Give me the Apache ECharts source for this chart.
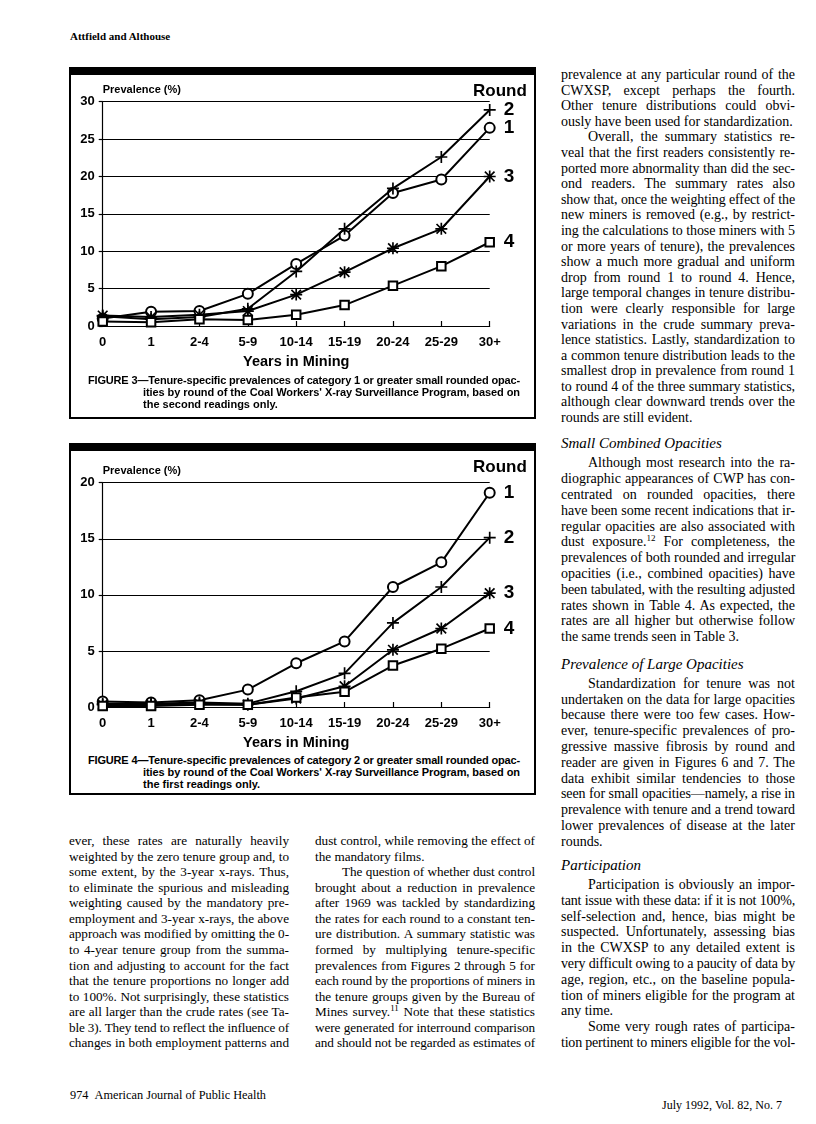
<!DOCTYPE html>
<html>
<head>
<meta charset="utf-8">
<script src="https://cdn.jsdelivr.net/npm/echarts@6/dist/echarts.min.js"></script>
<style>
  html, body { margin: 0; padding: 0; background: #fff; }
  .page { position: relative; width: 816px; height: 1124px; overflow: hidden; color: #000; }
  .abs { position: absolute; }
  .serif { font-family: 'Liberation Serif', 'Times New Roman', serif; }
  .sans { font-family: 'Liberation Sans', Arial, Helvetica, sans-serif; }
  .ln { white-space: nowrap; text-align: justify; text-align-last: justify; }
  .ln.e { text-align-last: left; }
  .ln.i { text-indent: 27px; }
  .box { position: absolute; box-sizing: border-box; border: 2px solid #000; border-top: 8px solid #000; }
  .cap { font-weight: bold; font-size: 11px; line-height: 12.2px; }
  .cap .ln.h { padding-left: 55px; }
  h3 { margin: 0; font-weight: normal; font-style: italic; font-size: 15px; line-height: 18px; }
  sup { font-size: 9px; line-height: 0; vertical-align: 5px; }
</style>
</head>
<body>
<div class="page">

  <div class="abs serif" style="left:70px; top:29px; font-size:11px; font-weight:bold; line-height:14px;">Attfield and Althouse</div>

  <!-- figure 3 -->
  <div class="box" style="left:69px; top:67px; width:467px; height:352px;"></div>
  <div id="fig3" class="abs" style="left:70px; top:75px; width:466px; height:300px;"></div>
  <div class="abs sans cap" style="left:88px; top:374px; width:432px;">
    <div class="ln">FIGURE 3—Tenure-specific prevalences of category 1 or greater small rounded opac-</div>
    <div class="ln h">ities by round of the Coal Workers' X-ray Surveillance Program, based on</div>
    <div class="ln h e">the second readings only.</div>
  </div>

  <!-- figure 4 -->
  <div class="box" style="left:69px; top:443px; width:467px; height:352px;"></div>
  <div id="fig4" class="abs" style="left:70px; top:451px; width:466px; height:300px;"></div>
  <div class="abs sans cap" style="left:88px; top:754px; width:432px;">
    <div class="ln">FIGURE 4—Tenure-specific prevalences of category 2 or greater small rounded opac-</div>
    <div class="ln h">ities by round of the Coal Workers' X-ray Surveillance Program, based on</div>
    <div class="ln h e">the first readings only.</div>
  </div>

  <!-- bottom left columns -->
  <div class="abs serif" style="left:69px; top:833px; width:220px; font-size:13.2px; line-height:15.56px;">
    <div class="ln">ever, these rates are naturally heavily</div>
    <div class="ln">weighted by the zero tenure group and, to</div>
    <div class="ln">some extent, by the 3-year x-rays. Thus,</div>
    <div class="ln">to eliminate the spurious and misleading</div>
    <div class="ln">weighting caused by the mandatory pre-</div>
    <div class="ln">employment and 3-year x-rays, the above</div>
    <div class="ln">approach was modified by omitting the 0-</div>
    <div class="ln">to 4-year tenure group from the summa-</div>
    <div class="ln">tion and adjusting to account for the fact</div>
    <div class="ln">that the tenure proportions no longer add</div>
    <div class="ln">to 100%. Not surprisingly, these statistics</div>
    <div class="ln">are all larger than the crude rates (see Ta-</div>
    <div class="ln">ble 3). They tend to reflect the influence of</div>
    <div class="ln">changes in both employment patterns and</div>
  </div>
  <div class="abs serif" style="left:315px; top:833px; width:220px; font-size:13.2px; line-height:15.56px;">
    <div class="ln">dust control, while removing the effect of</div>
    <div class="ln e">the mandatory films.</div>
    <div class="ln i">The question of whether dust control</div>
    <div class="ln">brought about a reduction in prevalence</div>
    <div class="ln">after 1969 was tackled by standardizing</div>
    <div class="ln">the rates for each round to a constant ten-</div>
    <div class="ln">ure distribution. A summary statistic was</div>
    <div class="ln">formed by multiplying tenure-specific</div>
    <div class="ln">prevalences from Figures 2 through 5 for</div>
    <div class="ln">each round by the proportions of miners in</div>
    <div class="ln">the tenure groups given by the Bureau of</div>
    <div class="ln">Mines survey.<sup>11</sup> Note that these statistics</div>
    <div class="ln">were generated for interround comparison</div>
    <div class="ln">and should not be regarded as estimates of</div>
  </div>

  <!-- right column -->
  <div class="abs serif" style="left:561px; top:67px; width:234px; font-size:14px; line-height:15.6px;">
    <div class="ln">prevalence at any particular round of the</div>
    <div class="ln">CWXSP, except perhaps the fourth.</div>
    <div class="ln">Other tenure distributions could obvi-</div>
    <div class="ln e">ously have been used for standardization.</div>
    <div class="ln i">Overall, the summary statistics re-</div>
    <div class="ln">veal that the first readers consistently re-</div>
    <div class="ln">ported more abnormality than did the sec-</div>
    <div class="ln">ond readers. The summary rates also</div>
    <div class="ln">show that, once the weighting effect of the</div>
    <div class="ln">new miners is removed (e.g., by restrict-</div>
    <div class="ln">ing the calculations to those miners with 5</div>
    <div class="ln">or more years of tenure), the prevalences</div>
    <div class="ln">show a much more gradual and uniform</div>
    <div class="ln">drop from round 1 to round 4. Hence,</div>
    <div class="ln">large temporal changes in tenure distribu-</div>
    <div class="ln">tion were clearly responsible for large</div>
    <div class="ln">variations in the crude summary preva-</div>
    <div class="ln">lence statistics. Lastly, standardization to</div>
    <div class="ln">a common tenure distribution leads to the</div>
    <div class="ln">smallest drop in prevalence from round 1</div>
    <div class="ln">to round 4 of the three summary statistics,</div>
    <div class="ln">although clear downward trends over the</div>
    <div class="ln e">rounds are still evident.</div>
  </div>

  <h3 class="abs serif" style="left:561px; top:434px;">Small Combined Opacities</h3>
  <div class="abs serif" style="left:561px; top:455.4px; width:234px; font-size:14px; line-height:15.8px;">
    <div class="ln i">Although most research into the ra-</div>
    <div class="ln">diographic appearances of CWP has con-</div>
    <div class="ln">centrated on rounded opacities, there</div>
    <div class="ln">have been some recent indications that ir-</div>
    <div class="ln">regular opacities are also associated with</div>
    <div class="ln">dust exposure.<sup>12</sup> For completeness, the</div>
    <div class="ln">prevalences of both rounded and irregular</div>
    <div class="ln">opacities (i.e., combined opacities) have</div>
    <div class="ln">been tabulated, with the resulting adjusted</div>
    <div class="ln">rates shown in Table 4. As expected, the</div>
    <div class="ln">rates are all higher but otherwise follow</div>
    <div class="ln e">the same trends seen in Table 3.</div>
  </div>

  <h3 class="abs serif" style="left:561px; top:654.8px;">Prevalence of Large Opacities</h3>
  <div class="abs serif" style="left:561px; top:675.9px; width:234px; font-size:14px; line-height:15.8px;">
    <div class="ln i">Standardization for tenure was not</div>
    <div class="ln">undertaken on the data for large opacities</div>
    <div class="ln">because there were too few cases. How-</div>
    <div class="ln">ever, tenure-specific prevalences of pro-</div>
    <div class="ln">gressive massive fibrosis by round and</div>
    <div class="ln">reader are given in Figures 6 and 7. The</div>
    <div class="ln">data exhibit similar tendencies to those</div>
    <div class="ln">seen for small opacities—namely, a rise in</div>
    <div class="ln">prevalence with tenure and a trend toward</div>
    <div class="ln">lower prevalences of disease at the later</div>
    <div class="ln e">rounds.</div>
  </div>

  <h3 class="abs serif" style="left:561px; top:856px;">Participation</h3>
  <div class="abs serif" style="left:561px; top:877.1px; width:234px; font-size:14px; line-height:15.8px;">
    <div class="ln i">Participation is obviously an impor-</div>
    <div class="ln">tant issue with these data: if it is not 100%,</div>
    <div class="ln">self-selection and, hence, bias might be</div>
    <div class="ln">suspected. Unfortunately, assessing bias</div>
    <div class="ln">in the CWXSP to any detailed extent is</div>
    <div class="ln">very difficult owing to a paucity of data by</div>
    <div class="ln">age, region, etc., on the baseline popula-</div>
    <div class="ln">tion of miners eligible for the program at</div>
    <div class="ln e">any time.</div>
    <div class="ln i">Some very rough rates of participa-</div>
    <div class="ln">tion pertinent to miners eligible for the vol-</div>
  </div>

  <div class="abs serif" style="left:70px; top:1087px; font-size:12.3px; line-height:16px;">974&nbsp;&nbsp;American Journal of Public Health</div>
  <div class="abs serif" style="right:34px; top:1097px; font-size:12px; line-height:16px;">July 1992, Vol. 82, No. 7</div>
</div>

<script>
// tenure groups on the x axis
const tenureGroups = ['0', '1', '2-4', '5-9', '10-14', '15-19', '20-24', '25-29', '30+'];
const roundNames = ['1', '2', '3', '4'];

// Figure 3: category 1+ small rounded opacities, second readings (%)
const fig3Round1 = [1.0, 1.9, 2.0, 4.3, 8.3, 12.1, 17.8, 19.6, 26.5];
const fig3Round2 = [1.3, 0.9, 1.2, 2.3, 7.3, 13.0, 18.4, 22.6, 28.9];
const fig3Round3 = [1.4, 1.2, 1.5, 2.0, 4.2, 7.2, 10.4, 13.0, 20.0];
const fig3Round4 = [0.6, 0.5, 0.9, 0.8, 1.5, 2.8, 5.4, 8.0, 11.2];

// Figure 4: category 2+ small rounded opacities, first readings (%)
const fig4Round1 = [0.5, 0.4, 0.6, 1.55, 3.9, 5.85, 10.7, 12.9, 19.1];
const fig4Round2 = [0.3, 0.3, 0.4, 0.3, 1.4, 3.0, 7.5, 10.7, 15.1];
const fig4Round3 = [0.2, 0.2, 0.3, 0.2, 0.75, 1.85, 5.1, 7.0, 10.15];
const fig4Round4 = [0.1, 0.1, 0.2, 0.2, 0.85, 1.35, 3.7, 5.2, 7.0];

const fig3Max = 30
const fig4Max = 20
const yStep = 5

const SANS = "'Liberation Sans', Arial, Helvetica, sans-serif"
const plusPath = 'path://M4.3,0L5.7,0L5.7,10L4.3,10ZM0,4.3L10,4.3L10,5.7L0,5.7Z'
const starPath = plusPath + 'M1.5,0.5L9.5,8.5L8.5,9.5L0.5,1.5ZM9.5,1.5L1.5,9.5L0.5,8.5L8.5,0.5Z'

const markers = {
  '1': { symbol: 'emptyCircle', size: 10 },
  '2': { symbol: plusPath, size: 12 },
  '3': { symbol: starPath, size: 12 },
  '4': { symbol: 'emptyRect', size: 8.5 }
}

const makeOption = (rounds, yMax, gridTop) => ({
  animation: false,
  grid: { left: 32.7, top: gridTop, width: 387, height: 224.3, outerBoundsMode: 'none', containLabel: false },
  graphic: [{
    type: 'text', left: 403, top: 8,
    style: { text: 'Round', font: 'bold 17px ' + SANS, fill: '#000' }
  }],
  xAxis: {
    type: 'category',
    data: tenureGroups,
    boundaryGap: false,
    name: 'Years in Mining',
    nameLocation: 'middle',
    nameGap: 28,
    nameTextStyle: { color: '#000', fontFamily: SANS, fontWeight: 'bold', fontSize: 14.5 },
    axisLine: { lineStyle: { color: '#000', width: 1.2 } },
    axisTick: { inside: true, length: 5, lineStyle: { color: '#000', width: 1.2 } },
    axisLabel: { color: '#000', fontFamily: SANS, fontWeight: 'bold', fontSize: 13, margin: 10 },
    splitLine: { show: false }
  },
  yAxis: {
    type: 'value',
    min: 0,
    max: yMax,
    interval: yStep,
    name: 'Prevalence (%)',
    nameLocation: 'end',
    nameGap: 6,
    nameTextStyle: { align: 'left', color: '#000', fontFamily: SANS, fontWeight: 'bold', fontSize: 11 },
    axisLine: { show: true, lineStyle: { color: '#000', width: 1.2 } },
    axisTick: { show: true, length: 4, lineStyle: { color: '#000', width: 1.2 } },
    axisLabel: { color: '#000', fontFamily: SANS, fontWeight: 'bold', fontSize: 13, margin: 8 },
    splitLine: { lineStyle: { color: '#000', width: 1.2 } }
  },
  series: rounds.map((values, i) => {
    const name = roundNames[i]
    const m = markers[name]
    return {
      type: 'line',
      name,
      data: values,
      symbol: m.symbol,
      symbolSize: m.size,
      showAllSymbol: true,
      z: 3 + i,
      lineStyle: { color: '#000', width: 2 },
      itemStyle: { color: '#000', borderColor: '#000', borderWidth: i === 0 || i === 3 ? 1.5 : 0 },
      endLabel: {
        show: true,
        formatter: '{a}',
        distance: 14,
        color: '#000',
        fontFamily: SANS,
        fontWeight: 'bold',
        fontSize: 19
      }
    }
  })
})

const fig3 = echarts.init(document.getElementById('fig3'), null, { renderer: 'canvas' })
fig3.setOption(makeOption([fig3Round1, fig3Round2, fig3Round3, fig3Round4], fig3Max, 26.7))

const fig4 = echarts.init(document.getElementById('fig4'), null, { renderer: 'canvas' })
fig4.setOption(makeOption([fig4Round1, fig4Round2, fig4Round3, fig4Round4], fig4Max, 31.7))

// squeeze any text line that is wider than its column
document.querySelectorAll('.ln').forEach(el => {
  const over = el.scrollWidth - el.clientWidth
  if (over > 0) {
    const n = el.textContent.length
    el.style.letterSpacing = (-(over + 1) / n) + 'px'
  }
})
</script>
</body>
</html>
